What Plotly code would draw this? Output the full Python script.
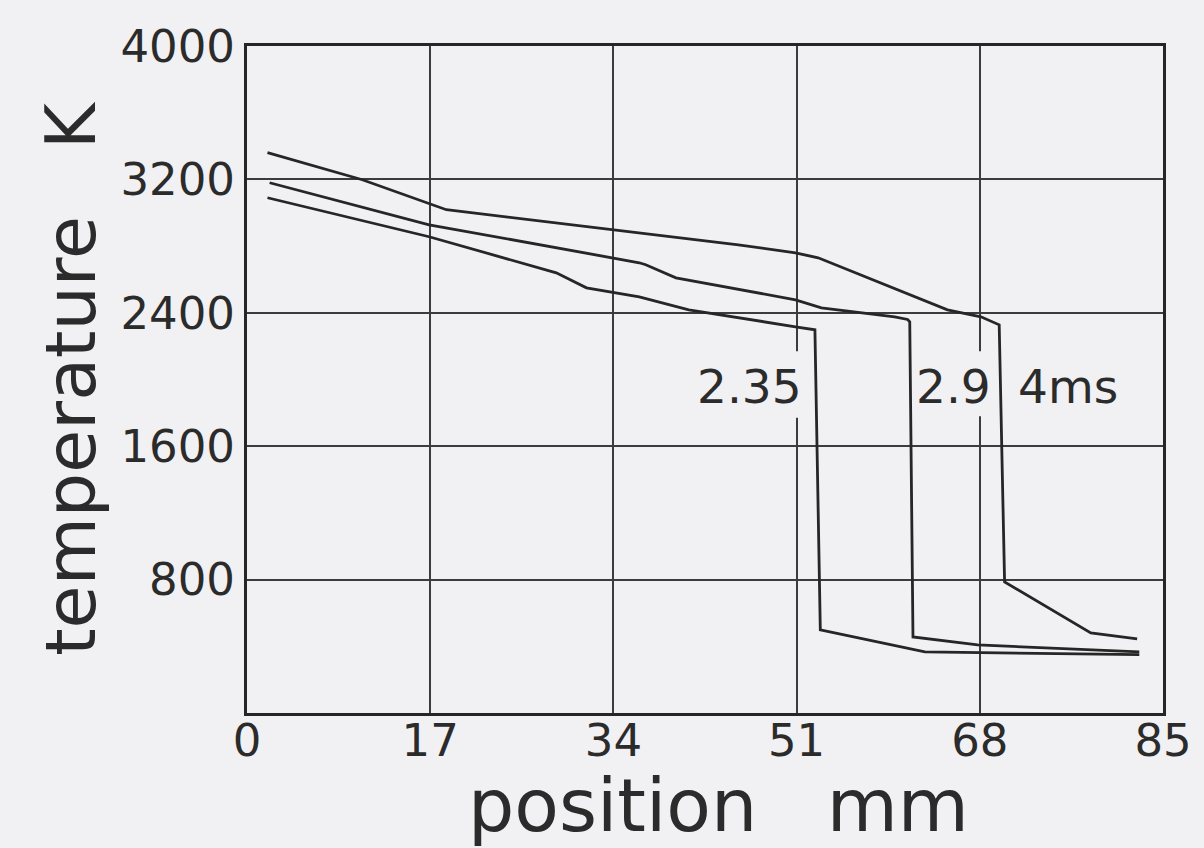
import plotly.graph_objects as go

# Data (position in mm, temperature in K)
x_235 = [1.9, 16.9, 28.7, 31.5, 36.4, 41.0, 50.9, 52.7, 53.2, 62.9, 82.8]
y_235 = [3090, 2856, 2640, 2550, 2496, 2418, 2316, 2298, 498, 366, 350]

x_29 = [2.1, 16.9, 36.4, 37.0, 39.8, 50.9, 53.3, 60.1, 61.3, 61.5, 61.8, 67.8, 82.8]
y_29 = [3180, 2928, 2700, 2688, 2610, 2478, 2430, 2376, 2360, 2346, 456, 408, 366]

x_4 = [1.9, 10.7, 18.5, 36.4, 45.6, 50.9, 53.0, 65.0, 68.1, 69.8, 70.3, 78.3, 82.6]
y_4 = [3360, 3198, 3018, 2880, 2808, 2760, 2730, 2418, 2376, 2328, 786, 480, 444]

curve_labels = ["2.35", "2.9", "4ms"]
label_x = [46.6, 65.6, 76.2]
label_y = [1960, 1960, 1960]

# gaps in the vertical grid lines behind the labels (x0, x1, y0, y1)
gap_boxes = [(49.5, 52.3, 1770, 2170), (66.5, 69.3, 1780, 2170)]

x_ticks = [0, 17, 34, 51, 68, 85]
y_ticks = [800, 1600, 2400, 3200, 4000]

x_title = "position\u00a0\u00a0\u00a0mm"
y_title = "temperature\u00a0\u00a0\u00a0K"

BG = "#f1f0f2"
INK = "#2b2b2b"
GRID = "#3c3c3c"
FONT = "DejaVu Sans"

fig = go.Figure()
for xs, ys in [(x_235, y_235), (x_29, y_29), (x_4, y_4)]:
    fig.add_trace(go.Scatter(x=xs, y=ys, mode="lines",
                             line=dict(color="#262626", width=2.8),
                             showlegend=False, hoverinfo="skip"))

for x0, x1, y0, y1 in gap_boxes:
    fig.add_shape(type="rect", xref="x", yref="y", x0=x0, x1=x1, y0=y0, y1=y1,
                  fillcolor=BG, line=dict(width=0), layer="between")

for t, lx, ly in zip(curve_labels, label_x, label_y):
    fig.add_annotation(x=lx, y=ly, text=t, showarrow=False,
                       font=dict(family=FONT, size=47, color=INK),
                       xanchor="center", yanchor="middle")

# x-axis title (placed slightly right of centre, as in the reference)
fig.add_annotation(xref="paper", yref="paper", x=0.5147, y=-0.139,
                   text=x_title, showarrow=False,
                   font=dict(family=FONT, size=73, color=INK),
                   xanchor="center", yanchor="middle")

fig.update_xaxes(range=[0, 85], tickvals=x_ticks, ticktext=[str(v) for v in x_ticks],
                 showgrid=True, gridcolor=GRID, gridwidth=2,
                 showline=True, linecolor="#262626", linewidth=3, mirror=True,
                 zeroline=False, ticks="", ticklabelstandoff=-14,
                 tickfont=dict(family=FONT, size=45, color=INK))
fig.update_yaxes(range=[0, 4000], tickvals=y_ticks, ticktext=[str(v) for v in y_ticks],
                 showgrid=True, gridcolor=GRID, gridwidth=2,
                 showline=True, linecolor="#262626", linewidth=3, mirror=True,
                 zeroline=False, ticks="",
                 tickfont=dict(family=FONT, size=45, color=INK),
                 title=dict(text=y_title,
                            font=dict(family=FONT, size=70, color=INK),
                            standoff=2))

fig.update_layout(width=1204, height=848,
                  margin=dict(l=247, r=38, t=46, b=135),
                  paper_bgcolor=BG, plot_bgcolor=BG,
                  font=dict(family=FONT, color=INK))

fig.write_html("out.html", config={"displayModeBar": False},
               post_script="document.body.style.margin='0px';"
                           "document.body.style.background='%s';" % BG)
